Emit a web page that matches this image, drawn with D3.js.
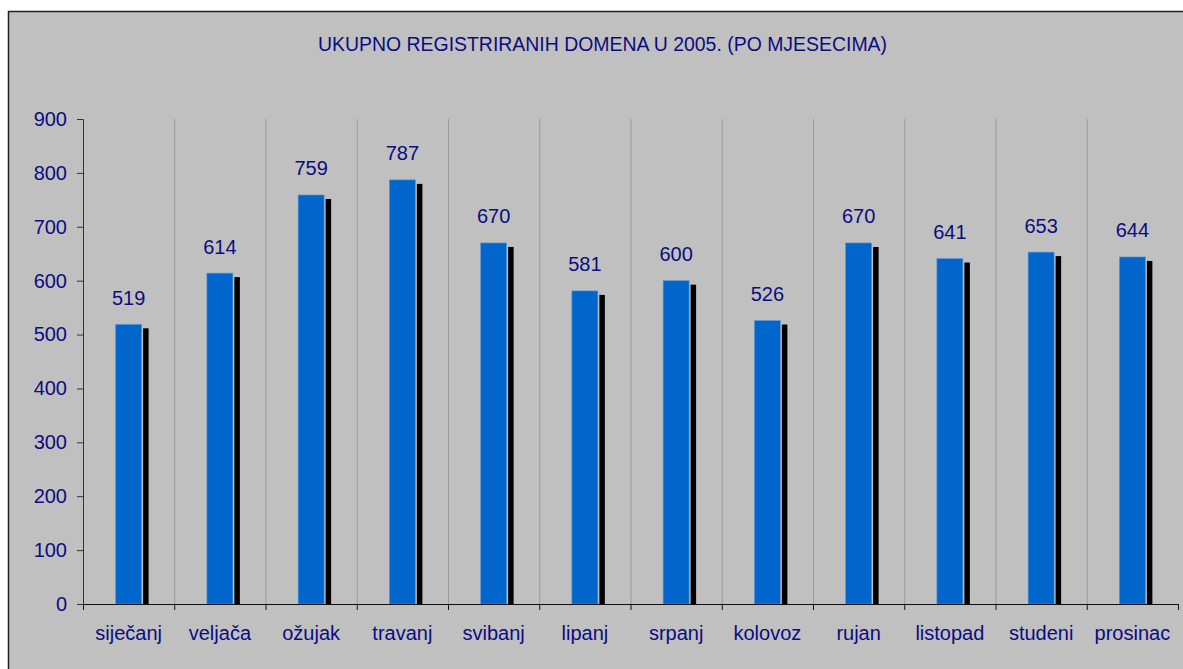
<!DOCTYPE html>
<html>
<head>
<meta charset="utf-8">
<script src="https://cdn.jsdelivr.net/npm/d3@7"></script>
<style>
  body { margin: 0; background: #fff; }
  text { font-family: 'Liberation Sans', Arial, sans-serif; fill: #0c0c80; }
</style>
</head>
<body>
<div id="chart"></div>
<script>
const months = ['siječanj', 'veljača', 'ožujak', 'travanj', 'svibanj', 'lipanj',
  'srpanj', 'kolovoz', 'rujan', 'listopad', 'studeni', 'prosinac']
const domains = [519, 614, 759, 787, 670, 581, 600, 526, 670, 641, 653, 644]
const yTicks = [0, 100, 200, 300, 400, 500, 600, 700, 800, 900]
const title = 'UKUPNO REGISTRIRANIH DOMENA U 2005. (PO MJESECIMA)'

const width = 1183
const height = 669
const margin = { top: 119, right: 5, bottom: 65, left: 83 }

const svg = d3.select('#chart').append('svg')
  .attr('width', width)
  .attr('height', height)

// grey panel with dark frame on top and left
svg.append('rect')
  .attr('x', 8.5).attr('y', 11.5)
  .attr('width', width).attr('height', height)
  .attr('fill', '#c0c0c0')
  .attr('stroke', '#222')
  .attr('stroke-width', 1.5)

// the original title is a tall, squeezed font
svg.append('text')
  .attr('x', 318).attr('y', 51)
  .attr('font-size', 20.5)
  .attr('textLength', 569)
  .attr('lengthAdjust', 'spacingAndGlyphs')
  .text(title)

const x = d3.scaleBand()
  .domain(months)
  .range([margin.left, width - margin.right])

const y = d3.scaleLinear()
  .domain([0, 900])
  .range([height - margin.bottom, margin.top])

// vertical separators between months
svg.append('g')
  .selectAll('line')
  .data(months.slice(1))
  .join('line')
  .attr('x1', d => x(d) + 0.5).attr('x2', d => x(d) + 0.5)
  .attr('y1', y(900)).attr('y2', y(0))
  .attr('stroke', '#9a9a9a')

const barW = 26
const bars = svg.append('g')
  .selectAll('g')
  .data(months.map((m, i) => ({ m, v: domains[i] })))
  .join('g')
  .attr('transform', d => `translate(${x(d.m) + x.bandwidth() / 2 - barW / 2},0)`)

// black shadow
bars.append('rect')
  .attr('x', barW + 1.5)
  .attr('y', d => y(d.v) + 4)
  .attr('width', 5.5)
  .attr('height', d => y(0) - y(d.v) - 4)
  .attr('fill', '#000')

bars.append('rect')
  .attr('x', 0)
  .attr('y', d => y(d.v))
  .attr('width', barW)
  .attr('height', d => y(0) - y(d.v))
  .attr('fill', '#0066cc')
  .attr('stroke', '#5a9ad8')
  .attr('stroke-width', 0.6)

bars.append('text')
  .attr('x', barW / 2)
  .attr('y', d => y(d.v) - 19.5)
  .attr('text-anchor', 'middle')
  .attr('font-size', 20)
  .text(d => d.v)

const yAxis = svg.append('g')
  .attr('transform', `translate(${margin.left},0)`)
  .call(d3.axisLeft(y).tickValues(yTicks).tickSize(6).tickPadding(10))
yAxis.selectAll('text').attr('font-size', 20).attr('fill', '#0c0c80').attr('font-family', null)
yAxis.selectAll('line, path').attr('stroke', '#333')

const xAxis = svg.append('g')
  .attr('transform', `translate(0,${y(0)})`)
  .call(d3.axisBottom(x).tickSize(0).tickPadding(22))
xAxis.selectAll('text').attr('font-size', 20).attr('fill', '#0c0c80').attr('font-family', null)
xAxis.select('path').attr('stroke', '#111').attr('d', `M${margin.left},0.5H${width - margin.right}`)

// tick marks at month boundaries
xAxis.append('g')
  .selectAll('line')
  .data(months.concat(['end']))
  .join('line')
  .attr('x1', (d, i) => x.range()[0] + i * x.step() + 0.5)
  .attr('x2', (d, i) => x.range()[0] + i * x.step() + 0.5)
  .attr('y1', 0).attr('y2', 6)
  .attr('stroke', '#111')
</script>
</body>
</html>
